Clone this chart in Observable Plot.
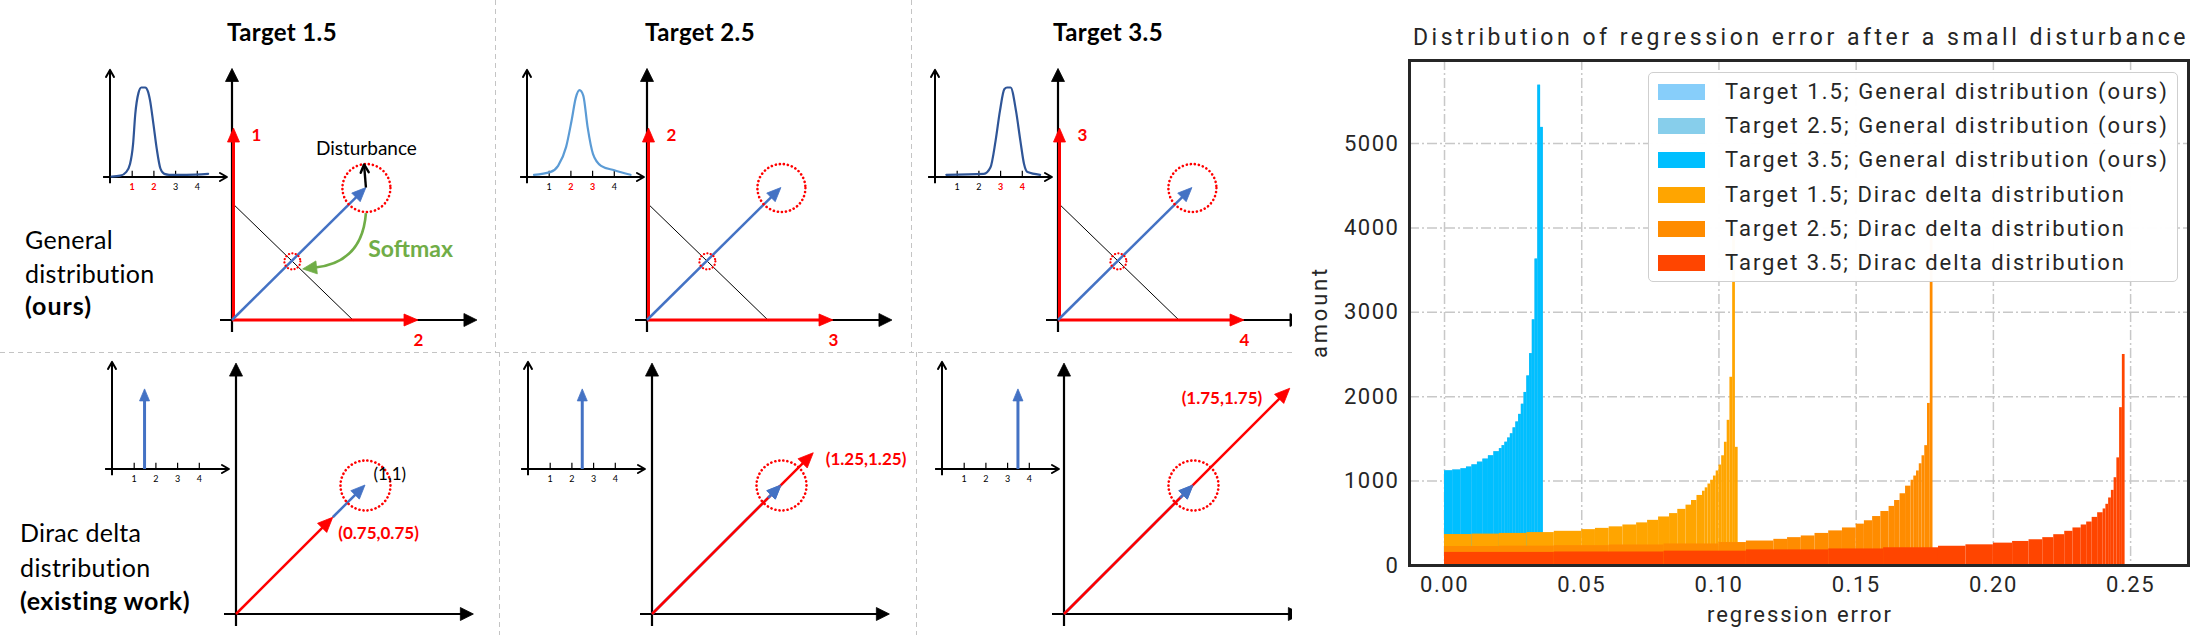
<!DOCTYPE html>
<html><head><meta charset="utf-8">
<script src="https://cdn.jsdelivr.net/npm/d3@7"></script>
<script src="https://cdn.jsdelivr.net/npm/@observablehq/plot@0.6"></script>
<style>
html,body{margin:0;padding:0;background:#fff;}
#root{position:relative;width:2200px;height:635px;overflow:hidden;background:#fff;}
#diagram{position:absolute;left:0;top:0;width:1292px;height:635px;overflow:hidden;}
.abs{position:absolute;white-space:nowrap;line-height:1;}
.vdash{position:absolute;width:1px;background:repeating-linear-gradient(to bottom,#c4c4c4 0 5px,transparent 5px 9px);}
.hdash{position:absolute;height:1px;background:repeating-linear-gradient(to right,#c4c4c4 0 5px,transparent 5px 9px);}
</style></head>
<body><div id="root"><div id="diagram"></div></div>
<script>
// ================= DATA =================
// --- left diagram ---
const panelTitles = ["Target 1.5", "Target 2.5", "Target 3.5"];
const targets = [1.5, 2.5, 3.5];
const rowLabelsGeneral = ["General", "distribution", "(ours)"];
const rowLabelsDirac = ["Dirac delta", "distribution", "(existing work)"];
const binTicks = [1, 2, 3, 4];
const neighbourBins = [[1, 2], [2, 3], [3, 4]];      // [bin on vertical axis, bin on horizontal axis]
// predicted distributions (inset curves): [bin position, relative probability]
const curveTarget15 = [[0.05,0.01],[0.45,0.02],[0.72,0.06],[0.9,0.15],[1.04,0.37],[1.14,0.7],[1.29,0.94],[1.42,1.0],[1.6,1.0],[1.72,0.96],[1.82,0.86],[1.98,0.59],[2.13,0.32],[2.3,0.1],[2.48,0.04],[2.7,0.03],[3.5,0.03],[4.5,0.04]];
const curveTarget25 = [[0.3,0.03],[1.04,0.06],[1.41,0.13],[1.78,0.34],[2.03,0.63],[2.23,0.89],[2.4,0.97],[2.57,0.91],[2.77,0.56],[3.02,0.26],[3.39,0.13],[4.0,0.08],[4.75,0.03]];
const curveTarget35 = [[0.5,0.03],[2.23,0.04],[2.53,0.11],[2.77,0.41],[2.97,0.74],[3.17,0.98],[3.3,1.0],[3.46,1.0],[3.71,0.74],[3.91,0.41],[4.08,0.15],[4.24,0.06],[4.82,0.03]];
const curveColors = ["#2F5597", "#5B9BD5", "#2F5597"];
const diracSpike = 0.89;
// general-distribution vector panels
const softmaxOutput = [0.72, 0.69];
const simplexLine = [[0, 0.61], [0.65, 0]];
const projectedPoint = [0.322, 0.308];
const disturbedOutput = [0.71, 0.81];
const softmaxCurve = [0.72, 0.557, 0.38, 0.266, 0.70, 0.30]; // from, to, control
// Dirac-delta vector panels
const diracOutputs = [0.75, 1.25, 1.75];
const diracTarget = [1, 1];
const diracLabels = ["(0.75,0.75)", "(1.25,1.25)", "(1.75,1.75)"];

// --- right chart ---
const chartTitle = "Distribution of regression error after a small disturbance";
const xLabel = "regression error";
const yLabel = "amount";
const xTicks = [0, 0.05, 0.1, 0.15, 0.2, 0.25];
const yTicks = [0, 1000, 2000, 3000, 4000, 5000];
const seriesNames = [
  "Target 1.5; General distribution (ours)",
  "Target 2.5; General distribution (ours)",
  "Target 3.5; General distribution (ours)",
  "Target 1.5; Dirac delta distribution",
  "Target 2.5; Dirac delta distribution",
  "Target 3.5; Dirac delta distribution"
];
const seriesColors = ["#87CEFA", "#87CEEB", "#00BFFF", "#FFA500", "#FF8C00", "#FF4500"];
// histogram bins: [from, to, amount]; the three general-distribution histograms coincide in the picture
const generalBins = [[0.000,0.003,1122],[0.003,0.006,1131],[0.006,0.008,1146],[0.008,0.010,1166],[0.010,0.012,1192],[0.012,0.014,1224],[0.014,0.016,1260],[0.016,0.018,1300],[0.018,0.020,1348],[0.020,0.021,1385],[0.021,0.022,1420],[0.022,0.023,1460],[0.023,0.024,1510],[0.024,0.025,1560],[0.025,0.026,1630],[0.026,0.027,1700],[0.027,0.028,1790],[0.028,0.029,1910],[0.029,0.030,2050],[0.030,0.031,2245],[0.031,0.032,2510],[0.032,0.033,2910],[0.033,0.034,3630],[0.034,0.035,5690],[0.035,0.036,5190]];
const dirac15Bins = [[0.000,0.010,367],[0.010,0.020,372],[0.020,0.030,380],[0.030,0.040,390],[0.040,0.050,405],[0.050,0.055,425],[0.055,0.060,440],[0.060,0.065,458],[0.065,0.070,480],[0.070,0.074,505],[0.074,0.078,535],[0.078,0.082,575],[0.082,0.085,615],[0.085,0.088,665],[0.088,0.090,715],[0.090,0.092,770],[0.092,0.094,830],[0.094,0.095,880],[0.095,0.096,920],[0.096,0.097,965],[0.097,0.098,1010],[0.098,0.099,1060],[0.099,0.100,1120],[0.100,0.101,1190],[0.101,0.102,1300],[0.102,0.103,1460],[0.103,0.104,1720],[0.104,0.105,2230],[0.105,0.106,4000],[0.106,0.107,1400]];
const dirac25Bins = [[0.000,0.020,225],[0.020,0.040,229],[0.040,0.060,235],[0.060,0.080,243],[0.080,0.100,255],[0.100,0.110,272],[0.110,0.120,290],[0.120,0.125,310],[0.125,0.130,330],[0.130,0.135,350],[0.135,0.140,380],[0.140,0.145,410],[0.145,0.150,445],[0.150,0.153,490],[0.153,0.156,530],[0.156,0.159,580],[0.159,0.162,640],[0.162,0.164,700],[0.164,0.166,770],[0.166,0.168,850],[0.168,0.170,940],[0.170,0.171,1010],[0.171,0.172,1060],[0.172,0.173,1120],[0.173,0.174,1205],[0.174,0.175,1300],[0.175,0.176,1420],[0.176,0.177,1920],[0.177,0.178,3900]];
const dirac35Bins = [[0.000,0.040,155],[0.040,0.080,160],[0.080,0.110,170],[0.110,0.140,185],[0.140,0.160,196],[0.160,0.180,210],[0.180,0.190,228],[0.190,0.200,245],[0.200,0.207,265],[0.207,0.213,285],[0.213,0.218,305],[0.218,0.222,330],[0.222,0.226,365],[0.226,0.229,405],[0.229,0.232,445],[0.232,0.234,480],[0.234,0.236,515],[0.236,0.238,570],[0.238,0.240,625],[0.240,0.241,670],[0.241,0.242,725],[0.242,0.243,800],[0.243,0.244,890],[0.244,0.245,1040],[0.245,0.246,1275],[0.246,0.247,1870],[0.247,0.248,2500]];
const seriesBins = [generalBins, generalBins, generalBins, dirac15Bins, dirac25Bins, dirac35Bins];

// ================= HELPERS =================
const root = document.getElementById("root");
const diagram = document.getElementById("diagram");
const DIAG_FONT = "Lato, 'Open Sans', 'DejaVu Sans', sans-serif";
const CHART_FONT = "Roboto, 'Liberation Sans', Arial, sans-serif";
const RED = "#FF0000", BLUE = "#4472C4", GREEN = "#70AD47";
const ctx = document.createElement("canvas").getContext("2d");
function textWidth(text, font) { ctx.font = font; return ctx.measureText(text).width; }

function label(parent, text, {x, y, size, family, weight = "normal", color = "#000", width = null, anchor = "start", rotate = 0}) {
  const el = document.createElement("div");
  el.className = "abs";
  el.textContent = text;
  Object.assign(el.style, {fontFamily: family, fontSize: size + "px", fontWeight: weight, color, left: x + "px", top: y + "px"});
  if (width) {
    const w = textWidth(text, `${weight} ${size}px ${family}`);
    el.style.letterSpacing = ((width - w) / text.length) + "px";
  }
  const tx = anchor === "middle" ? "-50%" : anchor === "end" ? "-100%" : "0";
  el.style.transform = `translate(${tx},-50%)` + (rotate ? ` rotate(${rotate}deg)` : "");
  parent.appendChild(el);
  return el;
}
function place(svg, left, top, parent = diagram) {
  Object.assign(svg.style, {position: "absolute", left: left + "px", top: top + "px", overflow: "visible", maxWidth: "none"});
  parent.appendChild(svg);
}
// arrows drawn through the panel's x/y scales: [x1, y1, x2, y2 (, cx, cy for a curved shaft)]
function arrowMark(list, {stroke = "black", width = 2, head = "fill", hl = 13, hw = 12}) {
  return (index, scales) => {
    const {x, y} = scales;
    const g = d3.create("svg:g").attr("stroke", stroke).attr("fill", "none");
    for (const a of list) {
      const X1 = x(a[0]), Y1 = y(a[1]), X2 = x(a[2]), Y2 = y(a[3]);
      const curved = a.length > 4;
      const CX = curved ? x(a[4]) : X1, CY = curved ? y(a[5]) : Y1;
      const ang = Math.atan2(Y2 - CY, X2 - CX), c = Math.cos(ang), s = Math.sin(ang);
      const bx = X2 - hl * c, by = Y2 - hl * s;
      const ex = head === "fill" ? bx + 1.5 * c : X2, ey = head === "fill" ? by + 1.5 * s : Y2;
      const d = curved ? `M${X1},${Y1}Q${CX},${CY},${ex},${ey}` : `M${X1},${Y1}L${ex},${ey}`;
      g.append("path").attr("d", d).attr("stroke-width", width);
      if (head === "fill") {
        g.append("path").attr("d", `M${X2},${Y2}L${bx - hw / 2 * s},${by + hw / 2 * c}L${bx + hw / 2 * s},${by - hw / 2 * c}Z`)
          .attr("fill", stroke).attr("stroke-width", 0.8);
      } else if (head === "open") {
        g.append("path").attr("d", `M${bx - hw / 2 * s},${by + hw / 2 * c}L${X2},${Y2}L${bx + hw / 2 * s},${by - hw / 2 * c}`)
          .attr("stroke-width", width).attr("stroke-linecap", "round").attr("stroke-linejoin", "round");
      }
    }
    return g.node();
  };
}
function panelPlot(ox, oy, ux, uy, marks, ext = {L: 40, R: 300, T: 300, B: 40}) {
  const {L, R, T, B} = ext;
  const svg = Plot.plot({
    width: L + R, height: T + B, margin: 0,
    x: {domain: [-L / ux, R / ux], axis: null},
    y: {domain: [-B / uy, T / uy], axis: null},
    style: {background: "transparent", overflow: "visible", fontFamily: DIAG_FONT},
    marks
  });
  place(svg, ox - L, oy - T);
}
const dotted = (r, w, gap) => ({r, stroke: RED, strokeWidth: w, strokeDasharray: `0.1,${gap}`, strokeLinecap: "round"});

// ================= LAYOUT =================
const topOrigins = [232, 647, 1058], topY = 320, ux = 186, uy = 192;
const insetTopX = [110, 527, 935], insetTopY = 177;
const botOrigins = [236, 652, 1064], botY = 614, u2 = 129;
const insetBotX = [112, 528, 942], insetBotY = 469;
const titleX = [282, 700, 1108];
const INSET = {L: 16, R: 126, T: 112, B: 22};
const iu = 21.7, iv = 90;

// dividers
[[495, 0, 352], [911, 0, 352], [499, 352, 635], [916, 352, 635]].forEach(([x, y0, y1]) => {
  const d = document.createElement("div"); d.className = "vdash";
  Object.assign(d.style, {left: x + "px", top: y0 + "px", height: (y1 - y0) + "px"}); diagram.appendChild(d);
});
{ const d = document.createElement("div"); d.className = "hdash";
  Object.assign(d.style, {left: "0px", top: "352px", width: "1292px"}); diagram.appendChild(d); }

// titles and row labels
panelTitles.forEach((t, i) => label(diagram, t, {x: titleX[i], y: 32, size: 24, family: DIAG_FONT, weight: "bold", anchor: "middle", width: 110}));
const rowW1 = [88, 130, 67], rowW2 = [121, 131, 171];
rowLabelsGeneral.forEach((t, i) => label(diagram, t, {x: 25, y: [239, 273, 305][i], size: 25, family: DIAG_FONT, weight: i === 2 ? "bold" : "normal", width: rowW1[i]}));
rowLabelsDirac.forEach((t, i) => label(diagram, t, {x: 20, y: [532, 567, 600][i], size: 25, family: DIAG_FONT, weight: i === 2 ? "bold" : "normal", width: rowW2[i]}));

const curves = [curveTarget15, curveTarget25, curveTarget35];
function insetMarks(i, top) {
  const red = top ? neighbourBins[i] : [];
  return [
    arrowMark([[0, -0.07, 0, 1.19], [-0.32, 0, 5.39, 0]], {stroke: "black", width: 2, head: "open", hl: 7, hw: 8}),
    Plot.ruleX(binTicks, {x: d => d, y1: 0, y2: 0.07, stroke: "black", strokeWidth: 1.2}),
    Plot.text(binTicks.filter(b => !red.includes(b)), {x: d => d, y: 0, dy: 10, text: d => String(d), fontSize: 9, fill: "black"}),
    Plot.text(binTicks.filter(b => red.includes(b)), {x: d => d, y: 0, dy: 10, text: d => String(d), fontSize: 9, fill: RED, fontWeight: "bold"})
  ];
}

// ---- top row (general distribution) ----
targets.forEach((t, i) => {
  const inset = insetMarks(i, true);
  inset.push(Plot.line(curves[i], {x: d => d[0], y: d => d[1], stroke: curveColors[i], strokeWidth: 2.2, curve: "monotone-x"}));
  panelPlot(insetTopX[i], insetTopY, iu, iv, inset, INSET);

  const marks = [
    Plot.link([simplexLine], {x1: d => d[0][0], y1: d => d[0][1], x2: d => d[1][0], y2: d => d[1][1], stroke: "black", strokeWidth: 1}),
    arrowMark([[0, -12 / uy, 0, 1.31], [-12 / ux, 0, 1.317, 0]], {stroke: "black", width: 2.2, hl: 13, hw: 13}),
    arrowMark([[0.008, 0, 0.008, 1], [0, 0, 1, 0]], {stroke: RED, width: 3, hl: 14, hw: 12}),
    arrowMark([[0, 0, ...softmaxOutput]], {stroke: BLUE, width: 2.5, hl: 14, hw: 12}),
    Plot.dot([softmaxOutput], {x: d => d[0], y: d => d[1], ...dotted(24, 2.6, 4)}),
    Plot.dot([projectedPoint], {x: d => d[0], y: d => d[1], ...dotted(8, 2.2, 3.3)}),
    Plot.text([neighbourBins[i][0]], {x: 0, y: 1, dx: 19, dy: 7, text: d => String(d), fill: RED, fontWeight: "bold", fontSize: 17, textAnchor: "start"}),
    Plot.text([neighbourBins[i][1]], {x: 1, y: 0, dy: 20, text: d => String(d), fill: RED, fontWeight: "bold", fontSize: 17})
  ];
  if (i === 0) {
    marks.push(
      arrowMark([[...softmaxOutput, ...disturbedOutput]], {stroke: "black", width: 2.4, head: "open", hl: 8, hw: 8}),
      Plot.text(["Disturbance"], {x: softmaxOutput[0], y: 0.896, text: d => d, fontSize: 19, fill: "black"}),
      arrowMark([softmaxCurve], {stroke: GREEN, width: 2.6, hl: 14, hw: 13}),
      Plot.text(["Softmax"], {x: 0.73, y: 0.37, text: d => d, fontSize: 23, fontWeight: "bold", fill: GREEN, textAnchor: "start"})
    );
  }
  panelPlot(topOrigins[i], topY, ux, uy, marks);
});

// ---- bottom row (Dirac delta) ----
const diracLabelOffsets = [{dx: 5, dy: 16, textAnchor: "start"}, {dx: 12, dy: 6, textAnchor: "start"}, {dx: -28, dy: 10, textAnchor: "end"}];
targets.forEach((t, i) => {
  const inset = insetMarks(i, false);
  inset.push(arrowMark([[t, 0, t, diracSpike]], {stroke: BLUE, width: 3, hl: 12, hw: 10}));
  panelPlot(insetBotX[i], insetBotY, iu, iv, inset, INSET);

  const o = diracOutputs[i];
  const marks = [
    arrowMark([[0, -12 / u2, 0, 1.945], [-12 / u2, 0, 1.84, 0]], {stroke: "black", width: 2.2, hl: 13, hw: 13}),
    arrowMark(i === 0 ? [[o, o, ...diracTarget]] : [[0, 0, ...diracTarget]], {stroke: BLUE, width: 2.5, hl: 14, hw: 12}),
    arrowMark([[0, 0, o, o]], {stroke: RED, width: 2.5, hl: 15, hw: 13}),
    Plot.dot([diracTarget], {x: d => d[0], y: d => d[1], ...dotted(25, 2.6, 4)}),
    Plot.text([diracLabels[i]], {x: o, y: o, text: d => d, fill: RED, fontWeight: "bold", fontSize: 17, ...diracLabelOffsets[i]})
  ];
  if (i > 0) marks.push(arrowMark([[0.9, 0.9, ...diracTarget]], {stroke: BLUE, width: 2.5, hl: 14, hw: 12}));
  if (i === 0) marks.push(Plot.text(["(1,1)"], {x: 1, y: 1, dx: 8, dy: -11, text: d => d, fill: "black", fontSize: 17, textAnchor: "start"}));
  panelPlot(botOrigins[i], botY, u2, u2, marks);
});

// ================= CHART =================
const tickLS = (49 - textWidth("0.00", `22px ${CHART_FONT}`)) / 4;
const chart = Plot.plot({
  width: 900, height: 635,
  marginLeft: 109, marginRight: 12, marginTop: 60, marginBottom: 70,
  x: {domain: [-0.01276, 0.2711]},
  y: {domain: [0, 5983]},
  style: {background: "transparent", fontFamily: CHART_FONT, color: "#262626", overflow: "visible", letterSpacing: tickLS + "px"},
  marks: [
    Plot.gridX(xTicks, {stroke: "#c8c8c8", strokeOpacity: 1, strokeWidth: 1.5, strokeDasharray: "10,3,2,3"}),
    Plot.gridY(yTicks.slice(1), {stroke: "#c8c8c8", strokeOpacity: 1, strokeWidth: 1.5, strokeDasharray: "10,3,2,3"}),
    ...seriesBins.map((bins, i) => Plot.rectY(bins, {x1: d => d[0], x2: d => d[1], y1: 0, y2: d => d[2], fill: seriesColors[i]})),
    Plot.axisX({ticks: xTicks, tickSize: 0, tickPadding: 11, tickFormat: d3.format(".2f"), fontSize: 22, label: null}),
    Plot.axisY({ticks: yTicks, tickSize: 0, tickPadding: 10, tickFormat: d => String(d), fontSize: 22, label: null}),
    Plot.frame({stroke: "#262626", strokeWidth: 3})
  ]
});
place(chart, 1300, 0, root);

label(root, chartTitle, {x: 1801, y: 37, size: 23, family: CHART_FONT, color: "#262626", anchor: "middle", width: 776});
label(root, xLabel, {x: 1800, y: 615, size: 22, family: CHART_FONT, color: "#262626", anchor: "middle", width: 186});
label(root, yLabel, {x: 1320, y: 312, size: 22, family: CHART_FONT, color: "#262626", anchor: "middle", width: 92, rotate: -90});

// legend
const legend = document.createElement("div");
Object.assign(legend.style, {position: "absolute", left: "1648px", top: "72px", width: "528px", height: "208px",
  border: "1.5px solid #cfcfcf", borderRadius: "5px", background: "rgba(255,255,255,0.97)"});
root.appendChild(legend);
seriesNames.forEach((name, i) => {
  const cy = 19 + 34.2 * i;
  const sw = document.createElement("div");
  Object.assign(sw.style, {position: "absolute", left: "9px", top: (cy - 8) + "px", width: "47px", height: "16px", background: seriesColors[i]});
  legend.appendChild(sw);
  label(legend, name, {x: 76, y: cy, size: 22, family: CHART_FONT, color: "#262626", width: name.includes("ours") ? 444 : 401});
});
</script></body></html>
